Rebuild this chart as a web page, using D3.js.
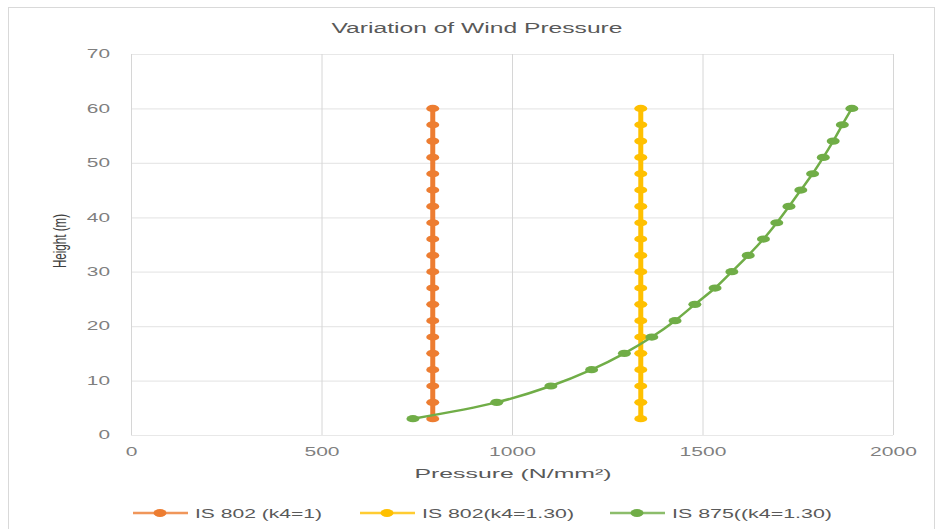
<html>
<head>
<meta charset="utf-8">
<script src="https://d3js.org/d3.v7.min.js"></script>
<style>
  body { margin: 0; background: #fff; }
  text { font-family: "Liberation Sans", "DejaVu Sans", sans-serif; fill: #595959; }
</style>
</head>
<body>
<script>
// *** data
var heights = [3, 6, 9, 12, 15, 18, 21, 24, 27, 30, 33, 36, 39, 42, 45, 48, 51, 54, 57, 60];
var is802k1 = [792, 792, 792, 792, 792, 792, 792, 792, 792, 792, 792, 792, 792, 792, 792, 792, 792, 792, 792, 792];
var is802k13 = [1338, 1338, 1338, 1338, 1338, 1338, 1338, 1338, 1338, 1338, 1338, 1338, 1338, 1338, 1338, 1338, 1338, 1338, 1338, 1338];
var is875 = [740, 960, 1102, 1209, 1295, 1367, 1428, 1480, 1533, 1577, 1620, 1660, 1695, 1727, 1758, 1789, 1817, 1843, 1867, 1892];
var seriesNames = ["IS 802 (k4=1)", "IS 802(k4=1.30)", "IS 875((k4=1.30)"];
var xTicks = [0, 500, 1000, 1500, 2000];
var yTicks = [0, 10, 20, 30, 40, 50, 60, 70];
var title = "Variation of Wind Pressure";
var xTitle = "Pressure (N/mm\u00b2)";
var yTitle = "Height (m)";

var colorset = ["#ED7D31", "#FFC000", "#70AD47"];
var W = 938, H = 529;
var plot = { left: 131, right: 893, top: 54, bottom: 435 };

var svg = d3.select("body").append("svg")
    .attr("width", W)
    .attr("height", H);

// chart frame
svg.append("rect")
    .attr("x", 8.5).attr("y", 7.5)
    .attr("width", 926).attr("height", 540)
    .attr("fill", "none")
    .attr("stroke", "#d9d9d9");

// *** scales
var xScale = d3.scaleLinear().domain([0, 2000]).range([plot.left, plot.right]);
var yScale = d3.scaleLinear().domain([0, 70]).range([plot.bottom, plot.top]);

// *** grid + axes
var yAxis = d3.axisLeft(yScale).tickValues(yTicks)
    .tickFormat(d3.format("d"))
    .tickSize(-(plot.right - plot.left)).tickPadding(21);
var xAxis = d3.axisBottom(xScale).tickValues(xTicks)
    .tickFormat(d3.format("d"))
    .tickSize(-(plot.bottom - plot.top)).tickPadding(12);

var gy = svg.append("g")
    .attr("transform", "translate(" + plot.left + ",0)")
    .call(yAxis);
gy.select(".domain").remove();
gy.selectAll("line").attr("stroke", "#e8e8e8").attr("stroke-width", 1.2);
gy.selectAll("text")
    .attr("font-size", 12)
    .attr("textLength", function(d){ return String(d).length * 11.6; })
    .attr("lengthAdjust", "spacingAndGlyphs")
    .style("fill", "#7f7f7f");

var gx = svg.append("g")
    .attr("transform", "translate(0," + plot.bottom + ")")
    .call(xAxis);
gx.select(".domain").remove();
gx.selectAll("line").attr("stroke", "#d6d6d6").attr("stroke-width", 1);
gx.selectAll("text")
    .attr("font-size", 12)
    .attr("textLength", function(d){ return String(d).length * 11.7; })
    .attr("lengthAdjust", "spacingAndGlyphs")
    .style("fill", "#7f7f7f");

// *** titles
svg.append("text")
    .attr("x", 477).attr("y", 33)
    .attr("text-anchor", "middle")
    .attr("font-size", 14)
    .attr("textLength", 291)
    .attr("lengthAdjust", "spacingAndGlyphs")
    .text(title);

svg.append("text")
    .attr("x", 513).attr("y", 478)
    .attr("text-anchor", "middle")
    .attr("font-size", 13)
    .attr("textLength", 197)
    .attr("lengthAdjust", "spacingAndGlyphs")
    .text(xTitle);

svg.append("text")
    .attr("transform", "translate(66,241) scale(1.6,1) rotate(-90)")
    .attr("text-anchor", "middle")
    .attr("font-size", 12)
    .attr("textLength", 54)
    .attr("lengthAdjust", "spacingAndGlyphs")
    .style("fill", "#404040")
    .text(yTitle);

// *** series
var series = [is802k1, is802k13, is875];
var widths = [5, 5, 2.5];

series.forEach(function(vals, i){
    var pts = heights.map(function(h, k){ return { x: vals[k], y: h }; });
    var line = d3.line()
        .x(function(d){ return xScale(d.x); })
        .y(function(d){ return yScale(d.y); })
        .curve(i === 2 ? d3.curveCatmullRom : d3.curveLinear);
    var g = svg.append("g");
    g.append("path")
        .attr("d", line(pts))
        .attr("fill", "none")
        .attr("stroke", colorset[i])
        .attr("stroke-width", widths[i]);
    g.selectAll("ellipse").data(pts).enter().append("ellipse")
        .attr("cx", function(d){ return xScale(d.x); })
        .attr("cy", function(d){ return yScale(d.y); })
        .attr("rx", 6.5)
        .attr("ry", 3.6)
        .attr("fill", colorset[i]);
});

// *** legend
var legendX = [133, 360, 610];
var legendW = [127, 152, 160];
var legendY = 513;
var lg = svg.append("g");
seriesNames.forEach(function(name, i){
    var x0 = legendX[i];
    lg.append("line")
        .attr("x1", x0).attr("x2", x0 + 55)
        .attr("y1", legendY).attr("y2", legendY)
        .attr("stroke", colorset[i])
        .attr("stroke-width", 2.5)
        .attr("opacity", 0.8);
    lg.append("ellipse")
        .attr("cx", x0 + 27).attr("cy", legendY)
        .attr("rx", 6.5).attr("ry", 4)
        .attr("fill", colorset[i]);
    lg.append("text")
        .attr("x", x0 + 62).attr("y", legendY + 5)
        .attr("font-size", 13)
        .attr("textLength", legendW[i])
        .attr("lengthAdjust", "spacingAndGlyphs")
        .text(name);
});
</script>
</body>
</html>
